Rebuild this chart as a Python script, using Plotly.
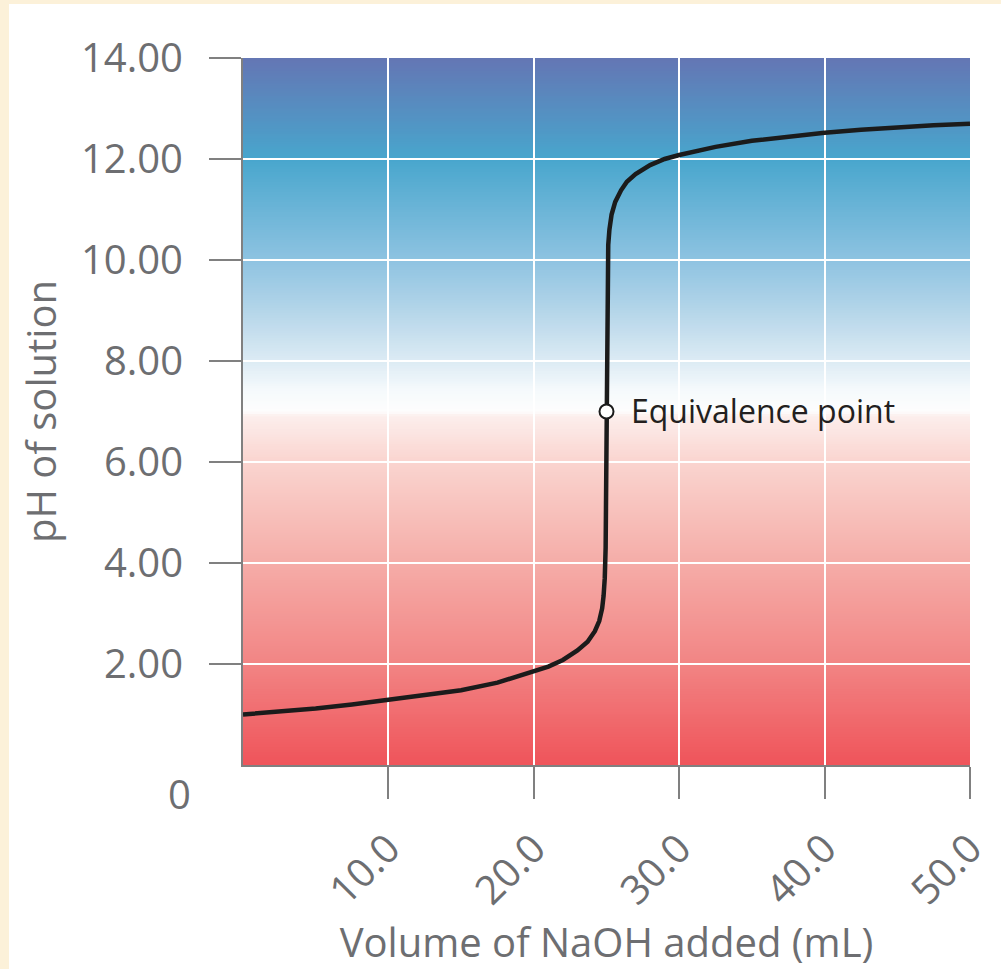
import plotly.graph_objects as go

# ---- data ----
volume_ml = [0, 2.5, 5, 7.5, 10, 12.5, 15, 17.5, 20, 21, 22, 23, 23.7, 24.2, 24.5,
             24.7, 24.8, 24.88, 24.94, 25.0, 25.06, 25.12, 25.2, 25.35, 25.6, 26.0,
             26.4, 27.0, 28.0, 29.0, 30.0, 32.5, 35.0, 37.5, 40.0, 42.5, 45.0, 47.5, 50.0]
ph_values = [1.00, 1.05, 1.12, 1.20, 1.30, 1.38, 1.48, 1.63, 1.85, 1.95, 2.08, 2.27, 2.44,
             2.65, 2.85, 3.1, 3.35, 3.7, 4.3, 7.0, 9.7, 10.3, 10.6, 10.9, 11.15, 11.38,
             11.55, 11.7, 11.88, 12.0, 12.08, 12.24, 12.36, 12.45, 12.52, 12.58, 12.63, 12.67, 12.70]

equiv_volume = [25.0]
equiv_ph = [7.0]
equiv_label = "Equivalence point"

x_tickvals = [10, 20, 30, 40, 50]
x_ticktext = ["10.0", "20.0", "30.0", "40.0", "50.0"]
y_tickvals = [2, 4, 6, 8, 10, 12, 14]
y_ticktext = ["2.00", "4.00", "6.00", "8.00", "10.00", "12.00", "14.00"]

x_title = "Volume of NaOH added (mL)"
y_title = "pH of solution"

# background gradient stops (pH, rgb)
grad_ph = [0.0, 2.0, 4.0, 6.0, 6.9, 7.0, 7.4, 8.0, 9.0, 10.0, 12.0, 14.0]
grad_rgb = [(239, 84, 90), (242, 132, 132), (245, 173, 168), (250, 212, 207),
            (252, 238, 236), (253, 253, 253), (246, 250, 252), (220, 235, 244),
            (180, 213, 233), (142, 195, 225), (72, 166, 205), (100, 118, 180)]

# ---- styles ----
W, H = 1001, 969
ML, MR, MT, MB = 243, 31, 58, 204
FONT = "Open Sans"
GRAY = "#6d6e71"
AXIS = "#808080"
CREAM = "#fcf1d9"


def color_at(p):
    for i in range(len(grad_ph) - 1):
        if grad_ph[i] <= p <= grad_ph[i + 1]:
            t = (p - grad_ph[i]) / (grad_ph[i + 1] - grad_ph[i])
            a, b = grad_rgb[i], grad_rgb[i + 1]
            c = [round(a[k] + (b[k] - a[k]) * t) for k in range(3)]
            return "rgb(%d,%d,%d)" % tuple(c)
    return "rgb(%d,%d,%d)" % grad_rgb[-1]


shapes = []
# white panel over cream paper
pw = W - ML - MR
ph_ = H - MT - MB
shapes.append(dict(type="rect", xref="paper", yref="paper", layer="below",
                   x0=(9 - ML) / pw, x1=(W - ML) / pw + 0.02,
                   y0=-(MB + 5) / ph_, y1=1 + (MT - 4) / ph_,
                   fillcolor="white", line=dict(width=0)))
step = 0.05
n = int(round(14 / step))
for i in range(n):
    y0 = i * step
    y1 = y0 + step
    shapes.append(dict(type="rect", xref="x", yref="y", layer="below",
                       x0=0, x1=50, y0=y0, y1=min(14, y1 + 0.02),
                       fillcolor=color_at(y0 + step / 2), line=dict(width=0)))

fig = go.Figure()
fig.add_trace(go.Scatter(x=volume_ml, y=ph_values, mode="lines",
                         line=dict(color="#1b1b1b", width=4.5), hoverinfo="skip",
                         showlegend=False))
fig.add_trace(go.Scatter(x=equiv_volume, y=equiv_ph, mode="markers",
                         marker=dict(size=14, color="white",
                                     line=dict(color="#1b1b1b", width=2)),
                         hoverinfo="skip", showlegend=False))

fig.update_layout(
    width=W, height=H,
    margin=dict(l=ML, r=MR, t=MT, b=MB, autoexpand=False),
    paper_bgcolor=CREAM, plot_bgcolor="white",
    shapes=shapes,
    hovermode=False,
    font=dict(family=FONT, color=GRAY, size=40),
    xaxis=dict(range=[0, 50], tickvals=x_tickvals, ticktext=x_ticktext,
               automargin=False,
               tickangle=-45, ticks="outside", ticklen=32, tickwidth=2,
               tickcolor=AXIS, showline=True, linecolor=AXIS, linewidth=2,
               showgrid=True, gridcolor="white", gridwidth=2, zeroline=False,
               tickfont=dict(family=FONT, size=40, color=GRAY),
               ticklabelstandoff=10,
               title=dict(text=x_title, standoff=14,
                          font=dict(family=FONT, size=40, color=GRAY))),
    yaxis=dict(range=[0, 14], tickvals=y_tickvals, ticktext=y_ticktext,
               automargin=False,
               ticks="outside", ticklen=32, tickwidth=2,
               tickcolor=AXIS, showline=True, linecolor=AXIS, linewidth=2,
               showgrid=True, gridcolor="white", gridwidth=2, zeroline=False,
               tickfont=dict(family=FONT, size=40, color=GRAY),
               ticklabelstandoff=18,
               title=dict(text=y_title, standoff=12,
                          font=dict(family=FONT, size=40, color=GRAY))),
    annotations=[
        dict(x=0, y=0, xref="x", yref="y", text="0", showarrow=False,
             xanchor="right", yanchor="middle", xshift=-50, yshift=-28,
             font=dict(family=FONT, size=40, color=GRAY)),
        dict(x=equiv_volume[0], y=equiv_ph[0], xref="x", yref="y",
             text=equiv_label, showarrow=False, xanchor="left",
             yanchor="middle", xshift=22, yshift=1,
             font=dict(family=FONT, size=32, color="#231f20")),
    ],
)

fig.write_html(
    "out.html",
    config={"displayModeBar": False},
    post_script="document.body.style.margin='0';"
                "document.body.style.overflow='hidden';"
                "document.body.style.background='white';",
)
